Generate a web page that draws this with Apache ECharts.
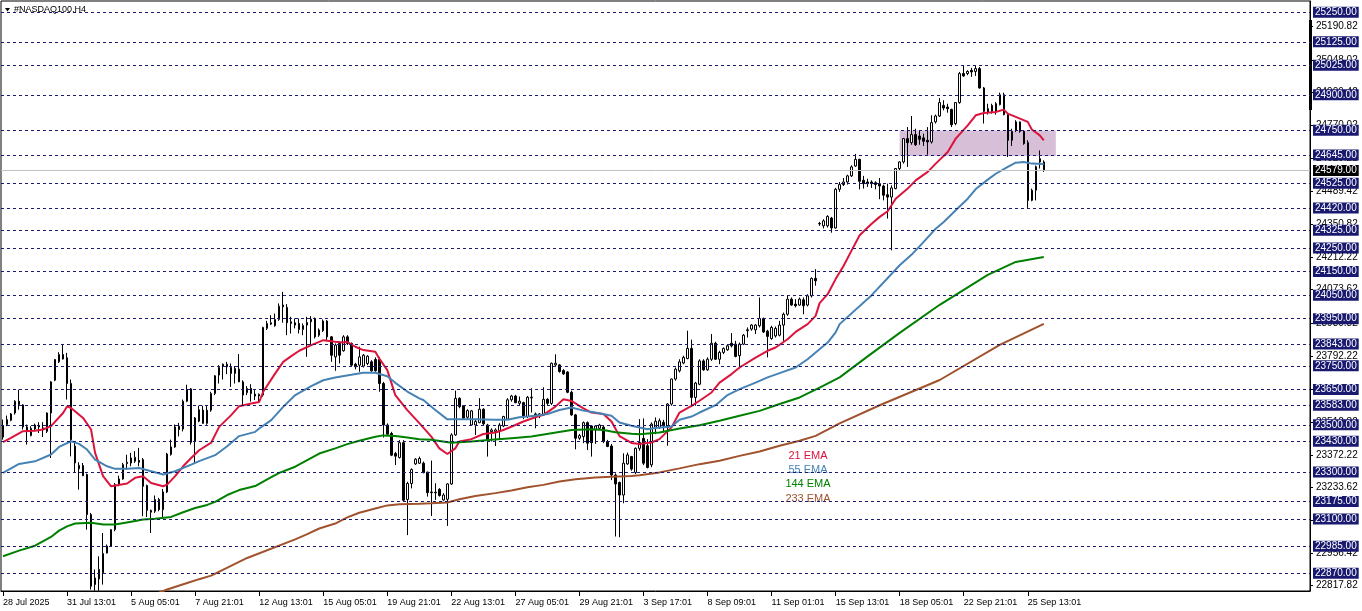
<!DOCTYPE html>
<html><head><meta charset="utf-8">
<script src="https://cdn.jsdelivr.net/npm/echarts@6/dist/echarts.min.js"></script>
<style>html,body{margin:0;padding:0;background:#fff}#c{width:1362px;height:611px}</style>
</head><body><div id="c"></div>
<script>
// ---- candle data (H4 bars, oldest first) ----
const opens = [
23448,23501,23519,23550,23600,23584,23491,23454,23482,23497,
23480,23472,23550,23689,23767,23798,23784,23675,23409,23313,
23327,23289,23119,22822,22846,22872,22956,22985,23055,23246,
23270,23335,23338,23345,23349,23352,23242,23129,23133,23183,
23140,23215,23374,23406,23494,23482,23600,23652,23430,23515,
23562,23506,23562,23633,23711,23749,23746,23743,23718,23736,
23682,23636,23654,23630,23622,23626,23909,23927,23920,23947,
24008,23998,23930,23923,23930,23904,23923,23937,23951,23880,
23899,23940,23873,23788,23845,23814,23873,23845,23757,23753,
23749,23760,23767,23777,23777,23675,23499,23463,23378,23361,
23424,23183,23251,23334,23337,23337,23299,23215,23214,23226,
23181,23184,23249,23457,23612,23581,23532,23499,23499,23509,
23566,23499,23471,23471,23475,23495,23524,23606,23622,23591,
23594,23535,23614,23542,23538,23542,23608,23591,23754,23754,
23730,23724,23638,23542,23443,23450,23509,23495,23478,23485,
23490,23429,23410,23287,23255,23202,23334,23365,23298,23400,
23442,23411,23330,23490,23489,23510,23489,23588,23694,23729,
23762,23781,23824,23616,23672,23771,23733,23778,23846,23778,
23807,23818,23846,23842,23793,23842,23899,23906,23903,23920,
23951,23897,23866,23877,23880,23923,23969,24033,24012,24008,
24030,24008,24047,24121,24354,24344,24344,24377,24335,24499,
24519,24530,24556,24598,24626,24537,24530,24530,24527,24523,
24513,24476,24466,24502,24587,24615,24714,24697,24731,24725,
24717,24707,24700,24785,24810,24855,24848,24838,24778,24867,
24990,24990,25004,24999,25011,24929,24841,24830,24862,24858,
24900,24816,24707,24749,24785,24745,24697,24452,24495,24629,24615];
const highs = [
23522,23539,23550,23604,23649,23587,23501,23494,23505,23511,
23511,23553,23685,23779,23808,23843,23805,23692,23430,23341,
23338,23293,23126,22886,22942,23041,22992,23058,23253,23284,
23338,23373,23381,23388,23402,23359,23246,23140,23200,23190,
23228,23381,23437,23501,23508,23607,23670,23656,23533,23581,
23581,23579,23640,23711,23753,23760,23767,23760,23749,23800,
23689,23664,23672,23647,23633,23916,23941,23965,23972,24015,
24064,24012,23958,23951,23951,23930,23958,23961,23955,23909,
23947,23944,23876,23845,23852,23880,23880,23849,23763,23831,
23800,23795,23774,23786,23788,23682,23506,23470,23385,23435,
23435,23258,23315,23358,23365,23344,23301,23348,23252,23231,
23210,23252,23464,23645,23617,23584,23566,23563,23521,23613,
23570,23504,23485,23485,23507,23538,23613,23627,23627,23620,
23598,23622,23655,23552,23549,23659,23613,23764,23799,23758,
23736,23727,23645,23546,23461,23514,23514,23499,23499,23504,
23495,23436,23419,23294,23259,23379,23382,23368,23404,23524,
23527,23439,23510,23531,23527,23521,23592,23696,23743,23778,
23793,23899,23861,23682,23778,23778,23786,23885,23852,23814,
23828,23842,23889,23856,23849,23885,23913,23927,23927,24040,
23955,23903,23920,23917,23941,23976,24047,24040,24033,24040,
24040,24054,24125,24160,24361,24372,24389,24382,24505,24530,
24547,24561,24601,24649,24629,24556,24544,24537,24533,24547,
24519,24523,24516,24589,24618,24717,24763,24810,24756,24749,
24735,24763,24813,24816,24886,24877,24862,24841,24869,24997,
25025,25004,25014,25025,25018,24933,24862,24862,24869,24909,
24909,24820,24756,24792,24787,24749,24707,24502,24600,24664,24622];
const lows = [
23437,23494,23515,23543,23564,23480,23416,23451,23477,23465,
23448,23465,23359,23685,23762,23777,23607,23366,23296,23225,
23282,23055,22801,22796,22796,22822,22954,22982,23048,23239,
23267,23310,23324,23338,23324,23112,23109,23041,23126,23133,
23105,23211,23369,23402,23451,23472,23596,23416,23338,23511,
23505,23500,23555,23626,23675,23692,23715,23661,23675,23682,
23583,23626,23598,23605,23598,23619,23902,23923,23916,23941,
23933,23880,23887,23909,23887,23880,23788,23838,23866,23873,
23894,23859,23767,23729,23760,23810,23838,23749,23735,23725,
23743,23753,23725,23725,23640,23446,23456,23367,23329,23357,
23173,23032,23230,23330,23334,23294,23195,23113,23181,23195,
23178,23071,23245,23453,23570,23521,23521,23495,23457,23507,
23499,23365,23429,23410,23436,23490,23521,23598,23591,23580,
23524,23528,23552,23485,23528,23538,23584,23584,23750,23721,
23712,23634,23538,23396,23436,23422,23393,23365,23419,23478,
23422,23405,23266,23026,23023,23167,23330,23305,23291,23390,
23329,23315,23320,23460,23482,23467,23411,23581,23687,23722,
23757,23778,23581,23581,23668,23729,23729,23771,23776,23757,
23800,23814,23828,23786,23739,23838,23870,23899,23885,23913,
23889,23786,23861,23870,23875,23856,23962,24005,23998,24005,
23969,24002,24040,24090,24344,24333,24337,24315,24332,24488,
24513,24519,24551,24594,24499,24502,24509,24505,24499,24457,
24452,24375,24240,24499,24580,24608,24594,24688,24683,24688,
24683,24646,24693,24778,24806,24834,24824,24763,24771,24862,
24976,24983,24976,24980,24926,24778,24816,24820,24816,24855,
24813,24636,24683,24742,24739,24688,24420,24448,24452,24587,24573];
const closes = [
23497,23522,23546,23600,23586,23491,23473,23485,23499,23491,
23487,23550,23682,23777,23798,23779,23675,23437,23338,23328,
23284,23119,22815,22850,22886,22954,22985,23055,23246,23270,
23331,23341,23359,23362,23341,23239,23137,23137,23183,23140,
23215,23376,23406,23491,23480,23600,23649,23426,23529,23564,
23506,23562,23633,23708,23743,23757,23757,23718,23739,23682,
23626,23654,23633,23622,23629,23913,23930,23933,23947,24003,
24001,23933,23937,23933,23904,23921,23934,23948,23873,23902,
23940,23873,23795,23838,23795,23873,23845,23753,23746,23788,
23795,23791,23729,23729,23675,23499,23460,23371,23367,23424,
23180,23251,23310,23354,23357,23297,23212,23212,23211,23200,
23202,23249,23457,23612,23577,23528,23560,23559,23514,23566,
23504,23436,23478,23478,23499,23535,23606,23622,23594,23600,
23535,23617,23617,23546,23546,23608,23591,23761,23761,23726,
23716,23638,23542,23443,23454,23509,23422,23424,23495,23499,
23429,23408,23287,23249,23202,23337,23372,23312,23400,23425,
23337,23319,23503,23515,23517,23496,23588,23694,23736,23767,
23786,23824,23616,23677,23771,23733,23778,23846,23778,23807,
23824,23835,23835,23790,23842,23880,23903,23923,23923,23951,
23894,23875,23913,23909,23923,23969,24033,24008,24005,24033,
24005,24047,24121,24111,24352,24365,24384,24335,24499,24519,
24530,24556,24594,24626,24533,24523,24523,24523,24519,24513,
24474,24466,24505,24587,24615,24714,24697,24731,24688,24711,
24703,24700,24782,24810,24867,24844,24841,24773,24867,24990,
24980,24999,24997,25011,24929,24830,24827,24855,24830,24900,
24816,24707,24745,24785,24745,24693,24452,24495,24595,24615,24580];

// ---- moving averages: [bar index, value] ----
const ema21 = [[0,23426],[2,23444],[5,23473],[8,23475],[10,23480],[12,23494],[15,23550],[16,23578],[17,23571],[20,23529],[22,23480],[23,23381],[25,23282],[27,23239],[31,23251],[33,23275],[35,23282],[37,23253],[40,23239],[41,23246],[43,23282],[45,23324],[47,23359],[49,23392],[52,23424],[54,23491],[57,23541],[59,23579],[62,23590],[64,23597],[65,23640],[68,23718],[70,23767],[72,23791],[74,23814],[77,23838],[79,23852],[80,23859],[83,23852],[85,23849],[86,23852],[88,23831],[90,23817],[93,23810],[94,23781],[96,23732],[98,23626],[101,23562],[104,23507],[107,23450],[109,23400],[111,23376],[113,23400],[114,23429],[117,23439],[120,23461],[123,23467],[125,23478],[128,23499],[130,23514],[133,23532],[135,23542],[138,23577],[140,23608],[142,23601],[145,23570],[147,23552],[150,23546],[152,23514],[154,23452],[157,23423],[159,23418],[162,23425],[164,23439],[167,23489],[169,23552],[172,23580],[174,23602],[177,23637],[179,23679],[182,23715],[184,23743],[188,23785],[191,23814],[193,23828],[196,23863],[198,23894],[201,23927],[203,23962],[204,24016],[206,24054],[208,24118],[210,24175],[212,24240],[214,24304],[217,24353],[219,24382],[221,24406],[223,24459],[226,24502],[228,24537],[231,24573],[233,24608],[236,24657],[238,24714],[241,24770],[243,24813],[245,24823],[248,24827],[250,24837],[251,24820],[253,24806],[256,24785],[257,24753],[259,24728],[260,24707]];
const ema55 = [[0,23296],[4,23334],[8,23345],[12,23374],[14,23406],[17,23430],[19,23419],[21,23395],[23,23352],[26,23324],[28,23313],[31,23313],[34,23317],[37,23303],[40,23289],[43,23303],[47,23331],[49,23346],[53,23371],[56,23409],[59,23452],[63,23470],[64,23484],[67,23520],[70,23576],[73,23626],[77,23664],[80,23689],[83,23701],[87,23712],[90,23721],[93,23721],[96,23706],[98,23678],[101,23641],[104,23612],[105,23605],[108,23563],[111,23523],[114,23523],[118,23523],[123,23521],[126,23521],[129,23532],[133,23538],[136,23546],[139,23563],[142,23573],[145,23560],[148,23552],[152,23538],[154,23510],[157,23496],[161,23481],[163,23486],[167,23493],[169,23521],[172,23535],[174,23552],[178,23583],[181,23626],[184,23651],[188,23679],[191,23701],[194,23719],[198,23743],[201,23778],[203,23807],[206,23849],[208,23892],[209,23927],[217,24050],[224,24177],[227,24222],[230,24276],[233,24332],[235,24360],[238,24410],[241,24459],[243,24500],[246,24540],[248,24565],[251,24594],[253,24612],[255,24615],[257,24608],[260,24606]];
const ema144 = [[0,22942],[4,22966],[8,22987],[12,23024],[14,23051],[16,23069],[18,23081],[22,23084],[25,23077],[28,23077],[32,23089],[35,23098],[38,23101],[42,23109],[45,23129],[48,23147],[51,23160],[53,23173],[56,23202],[59,23223],[63,23240],[66,23268],[69,23296],[73,23322],[76,23350],[79,23378],[83,23400],[86,23418],[89,23432],[93,23449],[95,23455],[98,23452],[101,23446],[104,23439],[107,23436],[112,23424],[117,23429],[122,23436],[127,23443],[132,23450],[137,23464],[142,23478],[147,23481],[150,23478],[153,23468],[157,23462],[159,23460],[164,23467],[169,23484],[174,23498],[179,23517],[184,23538],[189,23559],[194,23588],[199,23616],[204,23658],[209,23701],[216,23790],[224,23890],[234,24009],[246,24136],[253,24191],[260,24212]];
const ema233 = [[37,22775],[41,22801],[46,22829],[49,22845],[52,22860],[61,22935],[73,23014],[76,23036],[79,23060],[83,23081],[86,23107],[89,23127],[93,23145],[96,23158],[99,23163],[104,23165],[107,23167],[111,23170],[114,23184],[118,23198],[123,23210],[127,23221],[131,23235],[135,23245],[139,23259],[143,23269],[148,23276],[152,23280],[157,23283],[159,23286],[164,23298],[169,23315],[174,23333],[179,23347],[184,23368],[189,23387],[194,23411],[199,23432],[203,23453],[206,23479],[209,23506],[219,23583],[234,23690],[249,23839],[260,23928]];

// ---- axis text ----
const tickLabels = {0:'28 Jul 2025',16:'31 Jul 13:01',32:'5 Aug 05:01',48:'7 Aug 21:01',64:'12 Aug 13:01',80:'15 Aug 05:01',96:'19 Aug 21:01',112:'22 Aug 13:01',128:'27 Aug 05:01',144:'29 Aug 21:01',160:'3 Sep 17:01',176:'8 Sep 09:01',192:'11 Sep 01:01',208:'15 Sep 13:01',224:'18 Sep 05:01',240:'22 Sep 21:01',256:'25 Sep 13:01'};
const scaleLabels = [22817.82,22956.42,23095.02,23233.62,23372.22,23512.82,23652.42,23792.22,23930.82,24073.62,24212.22,24350.82,24489.42,24629.22,24770.02,24909.42,25048.02,25190.82];
const levels = [25250,25125,25025,24900,24750,24645,24525,24420,24325,24250,24150,24050,23950,23843,23750,23650,23583,23500,23430,23300,23175,23100,22985,22870];
const currentPrice = 24579;
const zoneTop = 24748, zoneBottom = 24640, zoneStart = 224, zoneEnd = 263;
const emaNames = ['21 EMA','55 EMA','144 EMA','233 EMA'];
const emaColors = ['#dc143c','#4682b4','#008000','#a0522d'];
const totalSlots = 327;

const cats = Array.from({length: totalSlots}, (_, i) => String(i));
const candles = opens.map((o, i) => [o, closes[i], lows[i], highs[i]]);
const FONT = 'Liberation Sans, Arial, sans-serif';

const levelLines = levels.map(v => ({yAxis: v}));
levelLines.push({
  yAxis: currentPrice,
  lineStyle: {type: 'solid', color: '#c0c0c0', width: 1},
  label: {backgroundColor: '#000'}
});

const chart = echarts.init(document.getElementById('c'), null, {renderer: 'canvas'});
const isTick = (i) => tickLabels[i] !== undefined;
chart.setOption({
  animation: false,
  backgroundColor: '#fff',
  grid: {left: 1, top: 1, width: 1309, height: 590, show: true, borderColor: '#000', borderWidth: 1, backgroundColor: 'transparent'},
  xAxis: {
    type: 'category', data: cats, boundaryGap: true,
    axisLine: {show: true, lineStyle: {color: '#000'}},
    axisTick: {show: true, interval: isTick, alignWithLabel: true, length: 5, lineStyle: {color: '#000'}},
    axisLabel: {interval: isTick, formatter: (v, i) => tickLabels[i] || '', align: 'left', margin: 7,
      fontSize: 9, fontFamily: FONT, color: '#000'},
    splitLine: {show: false}
  },
  yAxis: {
    type: 'value', position: 'right', min: 22794.8, max: 25297.9, scale: true,
    axisLine: {show: true, lineStyle: {color: '#000'}},
    axisTick: {show: true, customValues: scaleLabels, length: 3, lineStyle: {color: '#000'}},
    axisLabel: {customValues: scaleLabels, formatter: v => v.toFixed(2), fontSize: 10, fontFamily: FONT, color: '#000', margin: 6},
    splitLine: {show: false}
  },
  series: [
    {
      type: 'line', data: [], silent: true, z: 1,
      markArea: {
        silent: true,
        itemStyle: {color: '#d8bfd8'},
        data: [[{coord: [zoneStart, zoneTop]}, {coord: [zoneEnd, zoneBottom]}]]
      },
      markLine: {
        silent: true, symbol: ['none', 'none'], animation: false,
        lineStyle: {type: [3, 3], color: '#191970', width: 1},
        label: {show: true, position: 'end', distance: 3, formatter: p => Number(p.value).toFixed(2),
          color: '#fff', backgroundColor: '#191970', padding: [1, 2, 0, 2], fontSize: 10, fontFamily: FONT, lineHeight: 10},
        data: levelLines
      }
    },
    {
      type: 'candlestick', data: candles, z: 3, barWidth: 2,
      itemStyle: {color: '#fff', color0: '#000', borderColor: '#000', borderColor0: '#000', borderWidth: 1}
    },
    ...[ema21, ema55, ema144, ema233].map((d, k) => ({
      type: 'line', name: emaNames[k], data: d, z: 4, symbol: 'none', smooth: false, clip: true,
      lineStyle: {color: emaColors[k], width: 2}
    }))
  ],
  graphic: [
    {type: 'polygon', shape: {points: [[5, 8], [10, 8], [7.5, 11.5]]}, style: {fill: '#000'}},
    {type: 'text', x: 14, y: 10, style: {text: '#NASDAQ100,H4', fontSize: 9, fontFamily: FONT, fill: '#000', textVerticalAlign: 'middle'}},
    {type: 'rect', shape: {x: 1309, y: 20, width: 3, height: 90}, style: {fill: '#000'}},
    ...emaNames.map((t, k) => ({type: 'text', x: 808, y: 456 + k * 14.2,
      style: {text: t, fontSize: 11, fontFamily: FONT, fill: emaColors[k], textAlign: 'center', textVerticalAlign: 'middle'}}))
  ]
});
</script>
</body></html>
